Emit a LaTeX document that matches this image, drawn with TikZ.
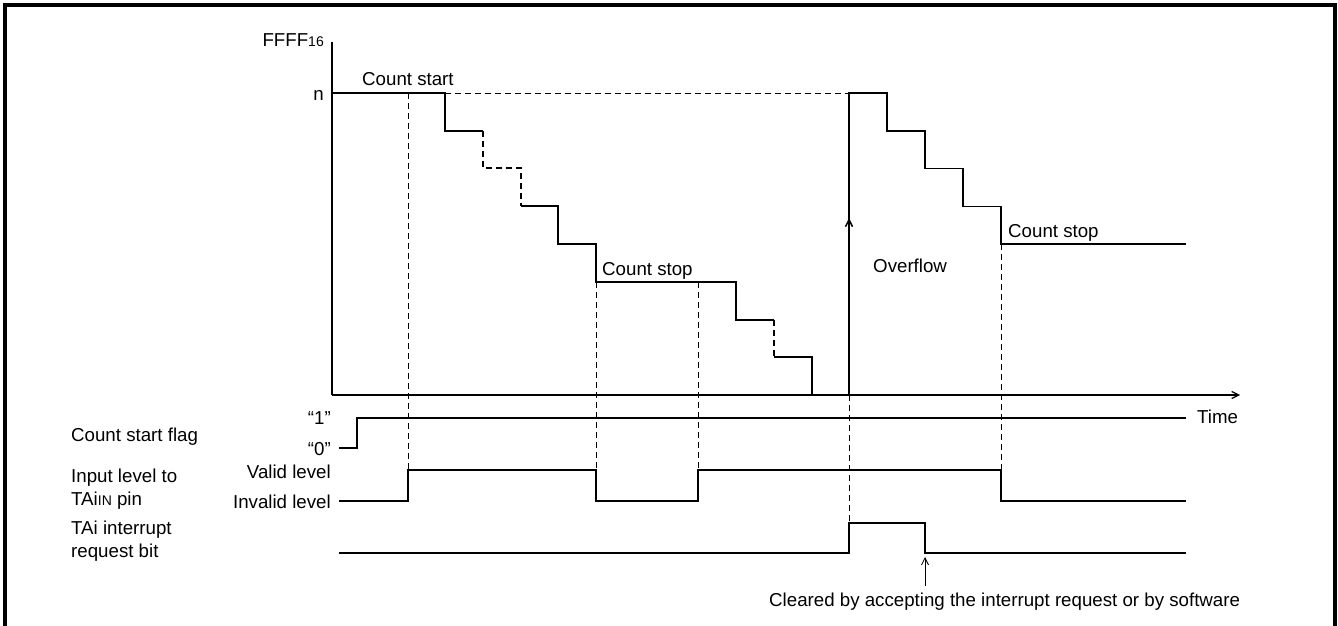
\documentclass[tikz,border=0pt]{standalone}
\usepackage{fontspec}
\setmainfont{Liberation Sans}
\usetikzlibrary{arrows.meta}
\begin{document}
\begin{tikzpicture}[x=1pt,y=-1pt,
  wave/.style={line width=1.5pt},
  gap/.style={dash pattern=on 6pt off 4pt},
  guide/.style={line width=1pt, gap},
  lab/.style={inner sep=0pt, font=\fontsize{18.7}{22}\selectfont},
  >={Straight Barb[length=7pt,width=7pt]}]
  \useasboundingbox (0,0) rectangle (1338,626);
  % Frame
  \draw[line width=3.5pt] (5,626) -- (5,5) -- (1335,5) -- (1335,626);
  % Counter axes
  \draw[line width=1.2pt] (332,42) -- (332,395);
  \draw[line width=1.2pt,->] (332,395) -- (1240,395);
  \node[lab,anchor=base east] (ffff) at (324,47) {FFFF{\fontsize{14}{14}\selectfont 16}};
  \node[lab,anchor=base east] (nlev) at (324,100) {n};
  \node[lab,anchor=base west] (time) at (1197,423) {Time};
  % Counter value: first run
  \draw[wave] (332,93) -- (445,93) -- (445,131) -- (483,131);
  \draw[wave,gap] (483,131) -- (483,168) -- (521,168) -- (521,206);
  \draw[wave] (521,206) -- (558,206) -- (558,244) -- (596,244) -- (596,282)
    -- (736,282) -- (736,320) -- (774,320);
  \draw[wave,gap] (774,320) -- (774,357);
  \draw[wave] (774,357) -- (812,357) -- (812,395);
  \node[lab,anchor=base west] (cstart) at (362,85) {Count start};
  \node[lab,anchor=base west] (cstop1) at (602,275) {Count stop};
  % Reload after overflow
  \draw[guide] (445,93) -- (849,93);
  \draw[wave,->] (849,300) -- (849,218);
  \draw[wave] (849,395) -- (849,93)
    \foreach \i in {0,...,3} {
      -- ({887+38*\i},{93+37.75*\i}) -- ({887+38*\i},{130.75+37.75*\i})
    } -- (1186,244);
  \node[lab,anchor=base west] (ovf) at (873,272) {Overflow};
  \node[lab,anchor=base west] (cstop2) at (1008,237) {Count stop};
  % Dashed guides
  \foreach \x/\ya/\yb in {408/93/470, 596/282/470, 698/282/470, 849/395/523, 1001/244/470} {
    \draw[guide] (\x,\ya) -- (\x,\yb);
  }
  % Count start flag
  \draw[wave] (339,448) -- (357,448) -- (357,418) -- (1186,418);
  \node[lab,anchor=base east] (one) at (331,424) {“1”};
  \node[lab,anchor=base east] (zero) at (331,455) {“0”};
  \node[lab,anchor=base west] (flag) at (71,441) {Count start flag};
  % Input level to TAiIN pin
  \draw[wave] (339,501) -- (408,501) -- (408,470) -- (596,470) -- (596,501)
    -- (698,501) -- (698,470) -- (1001,470) -- (1001,501) -- (1186,501);
  \node[lab,anchor=base east] (valid) at (331,478) {Valid level};
  \node[lab,anchor=base east] (invalid) at (331,508) {Invalid level};
  \node[lab,anchor=base west] (inp1) at (71,482) {Input level to};
  \node[lab,anchor=base west] (inp2) at (71,505) {TAi{\fontsize{14}{14}\selectfont IN} pin};
  % TAi interrupt request bit
  \draw[wave] (339,553) -- (849,553) -- (849,523) -- (925,523) -- (925,553) -- (1186,553);
  \draw[line width=0.8pt,->] (925,586) -- (925,557);
  \node[lab,anchor=base west] (irq1) at (71,534) {TAi interrupt};
  \node[lab,anchor=base west] (irq2) at (71,557) {request bit};
  \node[lab,anchor=base west] (clr) at (769,606) {Cleared by accepting the interrupt request or by software};
\end{tikzpicture}
\end{document}
